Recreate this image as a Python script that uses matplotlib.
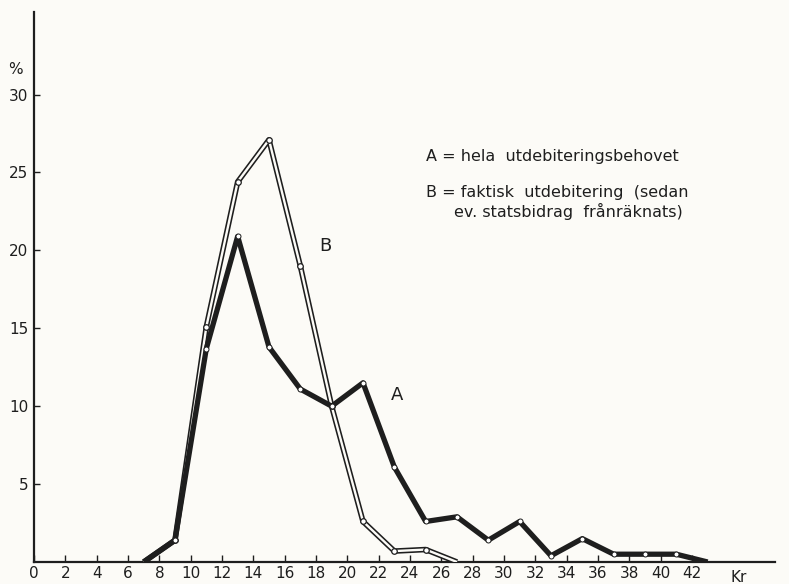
import numpy as np
from matplotlib import pyplot as plt

# income class midpoints (Kr)
x_a = [7, 9, 11, 13, 15, 17, 19, 21, 23, 25, 27, 29, 31, 33, 35, 37, 39, 41, 43]
pct_a = [0.0, 1.4, 13.7, 20.9, 13.8, 11.1, 10.0, 11.5, 6.1, 2.6, 2.9, 1.4, 2.6, 0.4, 1.5, 0.5, 0.5, 0.5, 0.0]

x_b = [7, 9, 11, 13, 15, 17, 19, 21, 23, 25, 27]
pct_b = [0.0, 1.4, 15.1, 24.4, 27.1, 19.0, 10.0, 2.6, 0.7, 0.8, 0.0]

x_ticks = list(range(0, 44, 2))
y_ticks = [5, 10, 15, 20, 25, 30]

BG = '#fcfbf7'
INK = '#1e1e1e'

fig = plt.figure(figsize=(7.89, 5.84), dpi=100, facecolor=BG)
ax = fig.add_axes([34/789, 1 - 562/584, 741/789, 550/584], facecolor=BG)

# B: double line (outline drawn thick, white drawn thinner on top)
ax.plot(x_b, pct_b, color=INK, lw=4.0, solid_joinstyle='round', solid_capstyle='butt', zorder=3)
ax.plot(x_b, pct_b, color=BG, lw=1.7, solid_joinstyle='round', solid_capstyle='butt', zorder=4)
ax.plot(x_b[1:-1], pct_b[1:-1], 'o', ms=4, mfc='white', mec=INK, mew=0.9, zorder=5)

# A: heavy black line
ax.plot(x_a, pct_a, color=INK, lw=3.8, solid_joinstyle='round', solid_capstyle='butt', zorder=6)
ax.plot(x_a[1:-1], pct_a[1:-1], 'o', ms=3.6, mfc='white', mec=INK, mew=0.7, zorder=7)

ax.set_xlim(0, 47.3)
ax.set_ylim(0, 35.3)
for s in ['top', 'right']:
    ax.spines[s].set_visible(False)
for s in ['left', 'bottom']:
    ax.spines[s].set_linewidth(1.6)
    ax.spines[s].set_color(INK)

ax.set_xticks(x_ticks)
ax.set_xticklabels([str(t) for t in x_ticks])
ax.set_yticks(y_ticks)
ax.set_yticklabels([str(t) for t in y_ticks])
ax.tick_params(axis='x', direction='in', length=5, width=1, color=INK,
               labelsize=11, pad=3, labelcolor=INK)
ax.tick_params(axis='y', direction='in', length=4, width=1, color=INK,
               labelsize=11, pad=4, labelcolor=INK)

ax.text(-1.2, 31.6, '%', fontsize=11, color=INK, ha='center', va='center', clip_on=False)
ax.text(45.0, -1.0, 'Kr', fontsize=11, color=INK, ha='center', va='center', clip_on=False)

ax.text(23.2, 10.7, 'A', fontsize=13, color=INK, ha='center', va='center')
ax.text(18.6, 20.3, 'B', fontsize=13, color=INK, ha='center', va='center')

ax.text(25.0, 26.0, 'A = hela  utdebiteringsbehovet', fontsize=11.5, color=INK, va='center')
ax.text(25.0, 23.7, 'B = faktisk  utdebitering  (sedan', fontsize=11.5, color=INK, va='center')
ax.text(26.8, 22.5, 'ev. statsbidrag  frånräknats)', fontsize=11.5, color=INK, va='center')

fig.savefig('out.png', dpi=100, facecolor=BG)
